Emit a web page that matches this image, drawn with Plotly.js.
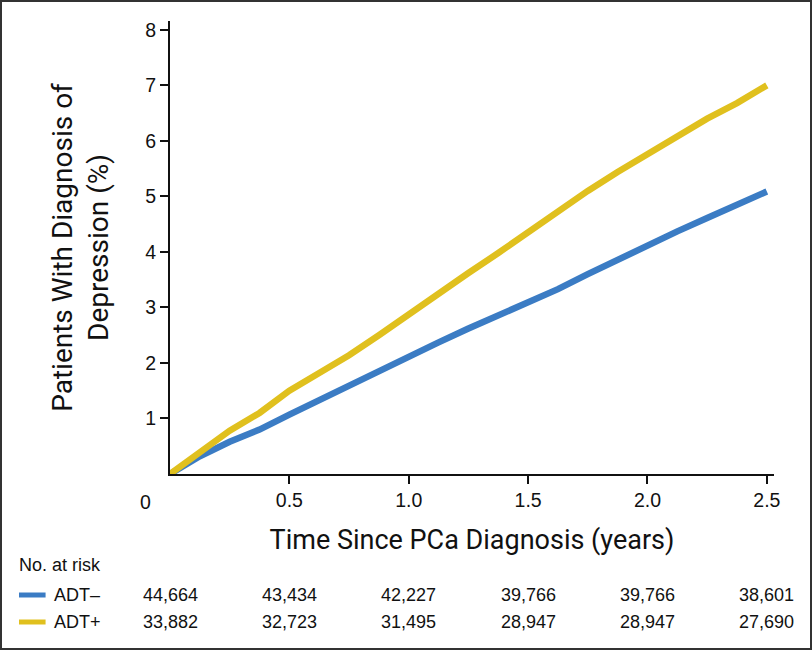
<!DOCTYPE html>
<html>
<head>
<meta charset="utf-8">
<script src="https://cdn.plot.ly/plotly-3.0.1.min.js"></script>
<style>
  html, body { margin: 0; padding: 0; background: #ffffff; }
  #wrap { position: relative; width: 812px; height: 650px; }
  #chart { width: 812px; height: 650px; }
  #frame { position: absolute; left: 0; top: 0; width: 812px; height: 650px; box-sizing: border-box; border: 2px solid #333; pointer-events: none; }
</style>
</head>
<body>
<div id="wrap"><div id="chart"></div><div id="frame"></div></div>
<script>
// Time since diagnosis (years)
const timeYears = [0, 0.125, 0.25, 0.375, 0.5, 0.625, 0.75, 0.875, 1.0, 1.125, 1.25, 1.375, 1.5, 1.625, 1.75, 1.875, 2.0, 2.125, 2.25, 2.375, 2.5];
// Cumulative % with diagnosis of depression
const adtMinus = [0, 0.32, 0.58, 0.80, 1.07, 1.33, 1.60, 1.88, 2.13, 2.37, 2.62, 2.85, 3.08, 3.33, 3.60, 3.86, 4.13, 4.37, 4.61, 4.85, 5.09];
const adtPlus  = [0, 0.38, 0.78, 1.10, 1.50, 1.82, 2.14, 2.50, 2.88, 3.25, 3.62, 3.98, 4.35, 4.74, 5.10, 5.44, 5.76, 6.08, 6.40, 6.68, 7.00];

// Risk table
const riskTimes = [0, 0.5, 1.0, 1.5, 2.0, 2.5];
const riskMinus = ["44,664", "43,434", "42,227", "39,766", "39,766", "38,601"];
const riskPlus  = ["33,882", "32,723", "31,495", "28,947", "28,947", "27,690"];
const groupNames = ["ADT\u2013", "ADT+"];

const xTickVals = [0.5, 1.0, 1.5, 2.0, 2.5];
const xTickText = ["0.5", "1.0", "1.5", "2.0", "2.5"];
const yTickVals = [1, 2, 3, 4, 5, 6, 7, 8];

const BLUE = "#3b7cc4";
const YELLOW = "#e0c01e";

const traces = [
  { x: timeYears, y: adtMinus, mode: "lines", name: groupNames[0], line: { color: BLUE, width: 6.5, shape: "linear" } },
  { x: timeYears, y: adtPlus, mode: "lines", name: groupNames[1], line: { color: YELLOW, width: 6.5, shape: "linear" } }
];

const tickFont = { family: "Liberation Sans, Arial, sans-serif", size: 19.5, color: "#111" };
const tableFont = { family: "Liberation Sans, Arial, sans-serif", size: 18, color: "#111" };
const annotations = [];
annotations.push({ xref: "x", yref: "paper", x: 0, y: 0, xshift: -25, yshift: -28, text: "0", showarrow: false, xanchor: "center", yanchor: "middle", font: tickFont });
annotations.push({ xref: "paper", yref: "paper", x: -0.253, y: 0, yshift: -91, text: "No. at risk", showarrow: false, xanchor: "left", yanchor: "middle", font: tableFont });
const rows = [riskMinus, riskPlus];
const rowShift = [-121, -148];
for (let r = 0; r < 2; r++) {
  annotations.push({ xref: "paper", yref: "paper", x: -0.196, y: 0, yshift: rowShift[r], text: groupNames[r], showarrow: false, xanchor: "left", yanchor: "middle", font: tableFont });
  for (let i = 0; i < riskTimes.length; i++) {
    annotations.push({ xref: "x", yref: "paper", x: riskTimes[i], y: 0, yshift: rowShift[r], text: rows[r][i], showarrow: false, xanchor: "center", yanchor: "middle", font: tableFont });
  }
}

const plotH = 650 - 21 - 176;
const shapes = [
  { type: "line", xref: "paper", yref: "paper", x0: -0.250, x1: -0.206, y0: rowShift[0] / plotH, y1: rowShift[0] / plotH, line: { color: BLUE, width: 5 } },
  { type: "line", xref: "paper", yref: "paper", x0: -0.250, x1: -0.206, y0: rowShift[1] / plotH, y1: rowShift[1] / plotH, line: { color: YELLOW, width: 5 } }
];

const layout = {
  width: 812, height: 650,
  margin: { l: 170, r: 38, t: 21, b: 176 },
  paper_bgcolor: "#ffffff", plot_bgcolor: "#ffffff",
  showlegend: false,
  font: { family: "Liberation Sans, Arial, sans-serif", color: "#111" },
  xaxis: {
    range: [0, 2.53], tickvals: xTickVals, ticktext: xTickText,
    showline: true, linecolor: "#111", linewidth: 2, mirror: false,
    ticks: "outside", ticklen: 8, tickwidth: 2, tickcolor: "#111",
    showgrid: false, zeroline: false,
    tickfont: tickFont,
    title: { text: "Time Since PCa Diagnosis (years)", standoff: 20, font: { family: "Roboto, sans-serif", size: 27, color: "#111" } },
    automargin: false
  },
  yaxis: {
    range: [0, 8.16], tickvals: yTickVals,
    showline: true, linecolor: "#111", linewidth: 2,
    ticks: "outside", ticklen: 8, tickwidth: 2, tickcolor: "#111",
    showgrid: false, zeroline: false,
    tickfont: tickFont,
    title: { text: "Patients With Diagnosis of<br>Depression (%)", standoff: 28, font: { family: "Roboto, sans-serif", size: 28, color: "#111" } },
    automargin: false
  },
  annotations: annotations,
  shapes: shapes
};

Plotly.newPlot("chart", traces, layout, { displayModeBar: false, staticPlot: true });
</script>
</body>
</html>
